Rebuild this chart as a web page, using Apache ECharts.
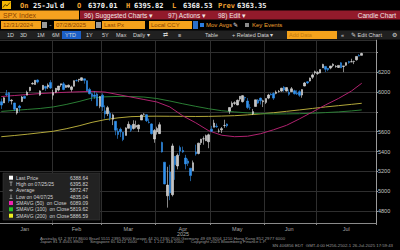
<!DOCTYPE html>
<html><head><meta charset="utf-8">
<script src="https://cdn.jsdelivr.net/npm/echarts@6/dist/echarts.min.js"></script>
<style>html,body{margin:0;padding:0;background:#000;}#c{width:400px;height:250px;}</style>
</head><body><div id="c"></div>
<script>
// ---------- DATA ----------
const dates = ['2025-01-02','2025-01-03','2025-01-06','2025-01-07','2025-01-08','2025-01-10','2025-01-13','2025-01-14','2025-01-15','2025-01-16','2025-01-17','2025-01-21','2025-01-22','2025-01-23','2025-01-24','2025-01-27','2025-01-28','2025-01-29','2025-01-30','2025-01-31',
'2025-02-03','2025-02-04','2025-02-05','2025-02-06','2025-02-07','2025-02-10','2025-02-11','2025-02-12','2025-02-13','2025-02-14','2025-02-18','2025-02-19','2025-02-20','2025-02-21','2025-02-24','2025-02-25','2025-02-26','2025-02-27','2025-02-28',
'2025-03-03','2025-03-04','2025-03-05','2025-03-06','2025-03-07','2025-03-10','2025-03-11','2025-03-12','2025-03-13','2025-03-14','2025-03-17','2025-03-18','2025-03-19','2025-03-20','2025-03-21','2025-03-24','2025-03-25','2025-03-26','2025-03-27','2025-03-28','2025-03-31',
'2025-04-01','2025-04-02','2025-04-03','2025-04-04','2025-04-07','2025-04-08','2025-04-09','2025-04-10','2025-04-11','2025-04-14','2025-04-15','2025-04-16','2025-04-17','2025-04-21','2025-04-22','2025-04-23','2025-04-24','2025-04-25','2025-04-28','2025-04-29','2025-04-30',
'2025-05-01','2025-05-02','2025-05-05','2025-05-06','2025-05-07','2025-05-08','2025-05-09','2025-05-12','2025-05-13','2025-05-14','2025-05-15','2025-05-16','2025-05-19','2025-05-20','2025-05-21','2025-05-22','2025-05-23','2025-05-27','2025-05-28','2025-05-29','2025-05-30',
'2025-06-02','2025-06-03','2025-06-04','2025-06-05','2025-06-06','2025-06-09','2025-06-10','2025-06-11','2025-06-12','2025-06-13','2025-06-16','2025-06-17','2025-06-18','2025-06-20','2025-06-23','2025-06-24','2025-06-25','2025-06-26','2025-06-27','2025-06-30',
'2025-07-01','2025-07-02','2025-07-03','2025-07-07','2025-07-08','2025-07-09','2025-07-10','2025-07-11','2025-07-14','2025-07-15','2025-07-16','2025-07-17','2025-07-18','2025-07-21','2025-07-22','2025-07-23','2025-07-24','2025-07-25'];

const opens = [5903,5891,5983,5993,5911,5890,5789,5859,5905,5956,5969,6015,6082,6076,6122,5970,6027,6057,6051,6096,
5969,5999,6021,6072,6083,6047,6050,6026,6059,6116,6121,6118,6134,6115,6027,5983,5970,5981,5857,
5969,5811,5782,5786,5726,5705,5604,5625,5594,5563,5635,5662,5633,5647,5630,5718,5776,5772,5696,5679,5527,
5598,5581,5492,5293,4954,5194,4965,5353,5255,5441,5411,5335,5305,5233,5207,5395,5381,5490,5529,5509,5499,
5626,5645,5656,5606,5619,5663,5678,5808,5852,5886,5870,5929,5903,5945,5910,5842,5781,5855,5919,5939,5903,
5896,5939,5978,5985,5987,6004,6010,6049,6010,5997,6004,6013,5987,6004,5970,6061,6104,6112,6150,6194,
6187,6193,6244,6259,6239,6242,6268,6256,6248,6295,6258,6270,6307,6304,6307,6326,6368,6370];
const highs = [5935,5949,6021,6001,5928,5891,5838,5871,5961,5965,6014,6051,6100,6119,6128,6018,6069,6063,6087,6120,
6022,6042,6062,6084,6101,6074,6076,6064,6117,6128,6130,6147,6134,6116,6044,5993,6009,5994,5959,
5987,5866,5861,5812,5783,5705,5636,5642,5597,5645,5704,5670,5716,5712,5673,5775,5787,5776,5733,5685,5627,
5651,5695,5500,5293,5247,5267,5481,5353,5381,5460,5450,5367,5328,5233,5310,5470,5489,5528,5553,5572,5581,
5659,5721,5683,5632,5648,5721,5684,5845,5906,5907,5925,5959,5969,5954,5939,5878,5830,5922,5930,5944,5923,
5936,5982,5990,5999,6016,6021,6043,6060,6046,6027,6051,6023,6018,6018,6028,6102,6109,6146,6187,6216,
6211,6227,6285,6262,6243,6264,6290,6271,6270,6302,6264,6297,6315,6336,6317,6359,6382,6396];
const lows = [5830,5889,5960,5891,5875,5809,5773,5802,5899,5933,5969,6007,6076,6075,6088,5962,6019,6012,6032,6031,
5924,5991,6007,6053,6019,6045,6043,6004,6058,6107,6100,6112,6085,6008,5978,5909,5932,5858,5837,
5810,5733,5758,5711,5667,5565,5529,5546,5505,5563,5633,5598,5622,5634,5597,5718,5764,5698,5684,5572,5489,
5571,5577,5390,5070,4835,4910,4948,5115,5221,5358,5387,5221,5255,5102,5207,5359,5372,5467,5469,5506,5434,
5597,5645,5640,5591,5587,5640,5644,5780,5842,5870,5867,5907,5895,5915,5830,5821,5768,5855,5882,5875,5849,
5879,5928,5967,5921,5978,5994,6003,6003,6006,5963,6004,5976,5971,5952,5943,6059,6080,6107,6133,6175,
6174,6189,6243,6202,6211,6230,6251,6246,6243,6242,6201,6265,6286,6304,6282,6317,6361,6369];
const closes = [5869,5942,5975,5909,5918,5827,5836,5843,5950,5937,5997,6049,6086,6119,6101,6012,6068,6039,6071,6041,
5995,6038,6061,6084,6026,6066,6069,6052,6115,6115,6130,6144,6118,6013,5983,5955,5956,5862,5955,
5850,5778,5843,5739,5770,5615,5572,5599,5522,5639,5675,5615,5675,5663,5668,5768,5777,5712,5693,5581,5612,
5633,5671,5397,5074,5062,4983,5457,5268,5363,5406,5397,5276,5283,5158,5288,5376,5485,5525,5529,5561,5569,
5604,5687,5650,5607,5631,5664,5660,5844,5887,5893,5917,5958,5964,5940,5845,5842,5803,5922,5889,5912,5912,
5936,5970,5971,5939,6000,6006,6039,6022,6045,5977,6033,5983,5981,5968,6025,6092,6092,6141,6173,6205,
6198,6227,6279,6230,6226,6263,6280,6260,6269,6244,6264,6297,6297,6306,6310,6359,6363,6389];

// moving averages (trading-day index, value)
const smaIdx = [0,5,10,15,20,25,30,35,40,45,50,55,60,65,70,75,80,85,90,95,100,105,110,115,120,125,130,135,139];
const sma50  = [5955,5965,5975,5985,5992,5998,6003,6007,6000,5975,5950,5925,5900,5850,5760,5690,5610,5565,5550,5555,5580,5620,5665,5730,5800,5870,5935,6010,6089];
const sma100 = [5805,5815,5825,5835,5850,5875,5905,5940,5952,5956,5955,5950,5935,5910,5882,5856,5832,5812,5800,5790,5782,5780,5780,5782,5787,5793,5800,5810,5820];
const sma200 = [5550,5562,5575,5590,5605,5630,5660,5695,5722,5740,5752,5756,5757,5756,5755,5754,5755,5758,5762,5770,5780,5792,5806,5820,5835,5850,5863,5876,5887];

const padCount = 5;
const monthNames = ['Jan','Feb','Mar','Apr','May','Jun','Jul','Aug','Sep','Oct','Nov','Dec'];
const lastPrice = 6388.64, highVal = 6395.82, avgVal = 5872.47, lowVal = 4835.04;
const sma50Last = 6089.09, sma100Last = 5819.62, sma200Last = 5886.59;
const legendLabels = ['Last Price','High on 07/25/25','Average','Low on 04/07/25','SMAVG (50)  on Close','SMAVG (100)  on Close','SMAVG (200)  on Close'];
const legendValues = [lastPrice, highVal, avgVal, lowVal, sma50Last, sma100Last, sma200Last];
const headerLabels = ['On','25-Jul','d','O','6370.01','H','6395.82','L','6368.53','Prev','6363.35'];

// ---------- BUILD ----------
const cats = dates.concat(new Array(padCount).fill(''));
const candles = dates.map((d,i)=>[opens[i], closes[i], lows[i], highs[i]]);
const pairs = arr => smaIdx.map((k,i)=>[k, arr[i]]);
const boxVals = [lastPrice, sma50Last, sma100Last, sma200Last];

const monthStart = new Set(), labelIdx = new Set();
const starts = [];
dates.forEach((d,i)=>{ if(i===0 || d.slice(5,7)!==dates[i-1].slice(5,7)) starts.push(i); });
starts.forEach((s,k)=>{ if(s>0) monthStart.add(s); const e = (k+1<starts.length? starts[k+1]-1 : cats.length-1); labelIdx.add(Math.floor((s+e)/2)); });

const C50='#b0226f', C100='#2a7d34', C200='#b3a83a';
const G = [];
const SANS='"Liberation Sans"';
function txt(x,y,s,fill,font,align,z){G.push({type:'text',x:x,y:y,z:z||100,silent:true,style:{text:s,fill:fill,font:font,textAlign:align||'left',textVerticalAlign:'middle',align:align||'left',verticalAlign:'middle'}});}
function box(x,y,w,h,fill,z,stroke){G.push({type:'rect',z:z||90,silent:true,shape:{x:x,y:y,width:w,height:h},style:{fill:fill,stroke:stroke||null,lineWidth:stroke?0.5:0}});}
function line(pts,stroke,z){G.push({type:'polyline',z:z||100,silent:true,shape:{points:pts},style:{stroke:stroke,lineWidth:0.8,fill:null}});}

// header row 1
const OR='#f0a030', MONO='bold 7px "DejaVu Sans Mono"';
box(2,1,9,8,'#f2b705');
line([[3,7.5],[5,4.5],[7,6],[10,2.5]],'#3a2a00');
const hx=[20,33,60,77,88,126,134,172,183,218,237];
headerLabels.forEach((s,i)=>txt(hx[i],5.5,s,(i===0||i===3||i===5||i===7||i===9)?OR:'#f2f2f2',MONO));
// row 2
box(0,10.5,79,9,'#f6a11f');
txt(3,15,'SPX Index','#8a4200','7px '+SANS);
box(80,10.5,320,9,'#921a2b');
txt(84,15,'96) Suggested Charts \u25BE','#f3e6e6','6.5px '+SANS);
txt(168,15,'97) Actions \u25BE','#f3e6e6','6.5px '+SANS);
txt(218,15,'98) Edit \u25BE','#f3e6e6','6.5px '+SANS);
txt(396,15,'Candle Chart','#f3e6e6','6.5px '+SANS,'right');
// row 3
const FT='#8a4200', F6='6px '+SANS;
box(1,21,40,8,'#f4a21c'); txt(3,25,'12/31/2024',FT,F6); box(42,22,5,6,'#9a9a9a');
txt(49.5,25,'-','#e0e0e0',F6);
box(54,21,41,8,'#f4a21c'); txt(56,25,'07/28/2025',FT,F6); box(96,22,5,6,'#9a9a9a');
box(102,21,43,8,'#f4a21c'); txt(104,25,'Last Px',FT,F6);
box(149,21,43,8,'#f4a21c'); txt(151,25,'Local CCY',FT,F6);
box(193,21,5,8,'#2b6fc9');
box(200,23,4,4,'#2a7de1');
txt(206,25,'Mov Avgs',OR,F6);
txt(233,25,'\u270E','#e0e0e0',F6);
box(245,23,4,4,'#8a8a8a');
txt(252,25,'Key Events',OR,F6);
// row 4
box(0,30.5,400,9,'#202020');
const F5='5.5px '+SANS, W='#d4d4d4';
box(62,31,19,8,'#1b5fc7');
[['1D',7],['3D',20],['1M',37],['6M',52],['YTD',65],['1Y',86],['5Y',102],['Max',116],['Daily \u25BE',133],['\u21C4',163],['\u2261',178],['Table',205],['+ Related Data \u25BE',232],['\u00AB',341],['\u270E Edit Chart',351],['\u2699',392]].forEach(a=>txt(a[1],35,a[0],W,F5));
box(287,31,50,8,'#f4a21c'); txt(289,35,'Add Data','#c57a10',F5);

// legend box
box(3,173,97,47,'#222222',95,'#3c3c3c');
const ly=[177.7,184,190.3,196.7,203,209.3,215.7];
legendLabels.forEach((s,i)=>{ txt(16,ly[i],s,'#d2d2d2','5px '+SANS,'left',101); txt(88,ly[i],legendValues[i].toFixed(2),'#d2d2d2','5px '+SANS,'right',101); });
box(9,175.7,4,4,'#ffffff',101);
line([[9.5,182],[12.5,182]],'#b0b0b0',101); line([[11,182],[11,186]],'#b0b0b0',101);
line([[9,190.3],[13,190.3]],'#b0b0b0',101); line([[11,189],[11,191.6]],'#b0b0b0',101);
line([[11,194.5],[11,198.5]],'#b0b0b0',101); line([[9.5,198.5],[12.5,198.5]],'#b0b0b0',101);
box(9,201,4,4,'#ee22b0',101); box(9,207.3,4,4,'#22c425',101); box(9,213.7,4,4,'#eeee22',101);

// axis year + footer
txt(183,234,'2025','#a8a8a8','5.5px '+SANS,'center');
const FF='4.3px '+SANS, FC='#9a9a9a';
txt(40,238.3,'Australia 61 2 9777 8600 Brazil 5511 2395 9000 Europe 44 20 7330 7500 Germany 49 69 9204 1210 Hong Kong 852 2977 6000',FC,FF);
txt(40,241.8,'Japan 81 3 4565 8900      Singapore 65 6212 1000      U.S. 1 212 318 2000      Copyright 2025 Bloomberg Finance L.P.',FC,FF);
txt(393,245.5,'SN 406856 EDT  GMT-4:00 H256-2502-1 26-Jul-2025 17:59:43',FC,FF,'right');

function ml(val,bg,fg){return {symbol:['none','none'],silent:true,animation:false,lineStyle:{opacity:0},
  label:{show:true,position:'end',distance:2,formatter:p=>Number(p.value).toFixed(2),backgroundColor:bg,color:fg,fontSize:5,fontFamily:'Liberation Sans',padding:[1,1,0,1]},
  data:[{yAxis:val}]};}

const chart = echarts.init(document.getElementById('c'), null, {renderer:'svg', width:400, height:250});
chart.setOption({
  animation:false,
  backgroundColor:'#000',
  grid:{left:0,right:24,top:40,bottom:27,containLabel:false,outerBoundsMode:'none'},
  xAxis:{type:'category',data:cats,boundaryGap:true,
    axisLine:{lineStyle:{color:'#8a8a8a',width:1}},
    axisTick:{show:true,interval:(i)=>monthStart.has(i),length:2,lineStyle:{color:'#8a8a8a'}},
    axisLabel:{interval:(i)=>labelIdx.has(i),formatter:(v)=>v?monthNames[+v.slice(5,7)-1]:'',color:'#a8a8a8',fontSize:5.5,fontFamily:'Liberation Sans',margin:3},
    splitLine:{show:true,interval:(i)=>monthStart.has(i),lineStyle:{color:'#2e2e2e',width:1}}},
  yAxis:{type:'value',position:'right',min:4680,max:6525,splitNumber:9,scale:true,
    axisLine:{show:true,lineStyle:{color:'#9a9a9a'}},
    axisTick:{show:true,length:2,lineStyle:{color:'#9a9a9a'}},
    axisLabel:{color:'#c8c8c8',fontSize:5.5,fontFamily:'Liberation Sans',margin:2,showMinLabel:false,showMaxLabel:false,
      formatter:(v)=>boxVals.some(b=>Math.abs(b-v)<75)?'':String(v)},
    splitLine:{show:true,lineStyle:{color:'#2e2e2e',width:1}}},
  series:[
    {type:'line',data:pairs(sma200),symbol:'none',lineStyle:{color:C200,width:1},z:3,markLine:ml(sma200Last,'#e8e020','#000')},
    {type:'line',data:pairs(sma100),symbol:'none',lineStyle:{color:C100,width:1},z:3,markLine:ml(sma100Last,'#22c425','#ffffff')},
    {type:'line',data:pairs(sma50),symbol:'none',lineStyle:{color:C50,width:1},z:3,markLine:ml(sma50Last,'#e8209a','#ffffff')},
    {type:'candlestick',data:candles,barWidth:2,z:4,
      itemStyle:{color:'#c4c4c4',color0:'#3292ee',borderColor:'#e2e2e2',borderColor0:'#3292ee',borderWidth:0.6},
      markLine:ml(lastPrice,'#ffffff','#000')}
  ],
  graphic:{elements:G}
});
</script></body></html>
